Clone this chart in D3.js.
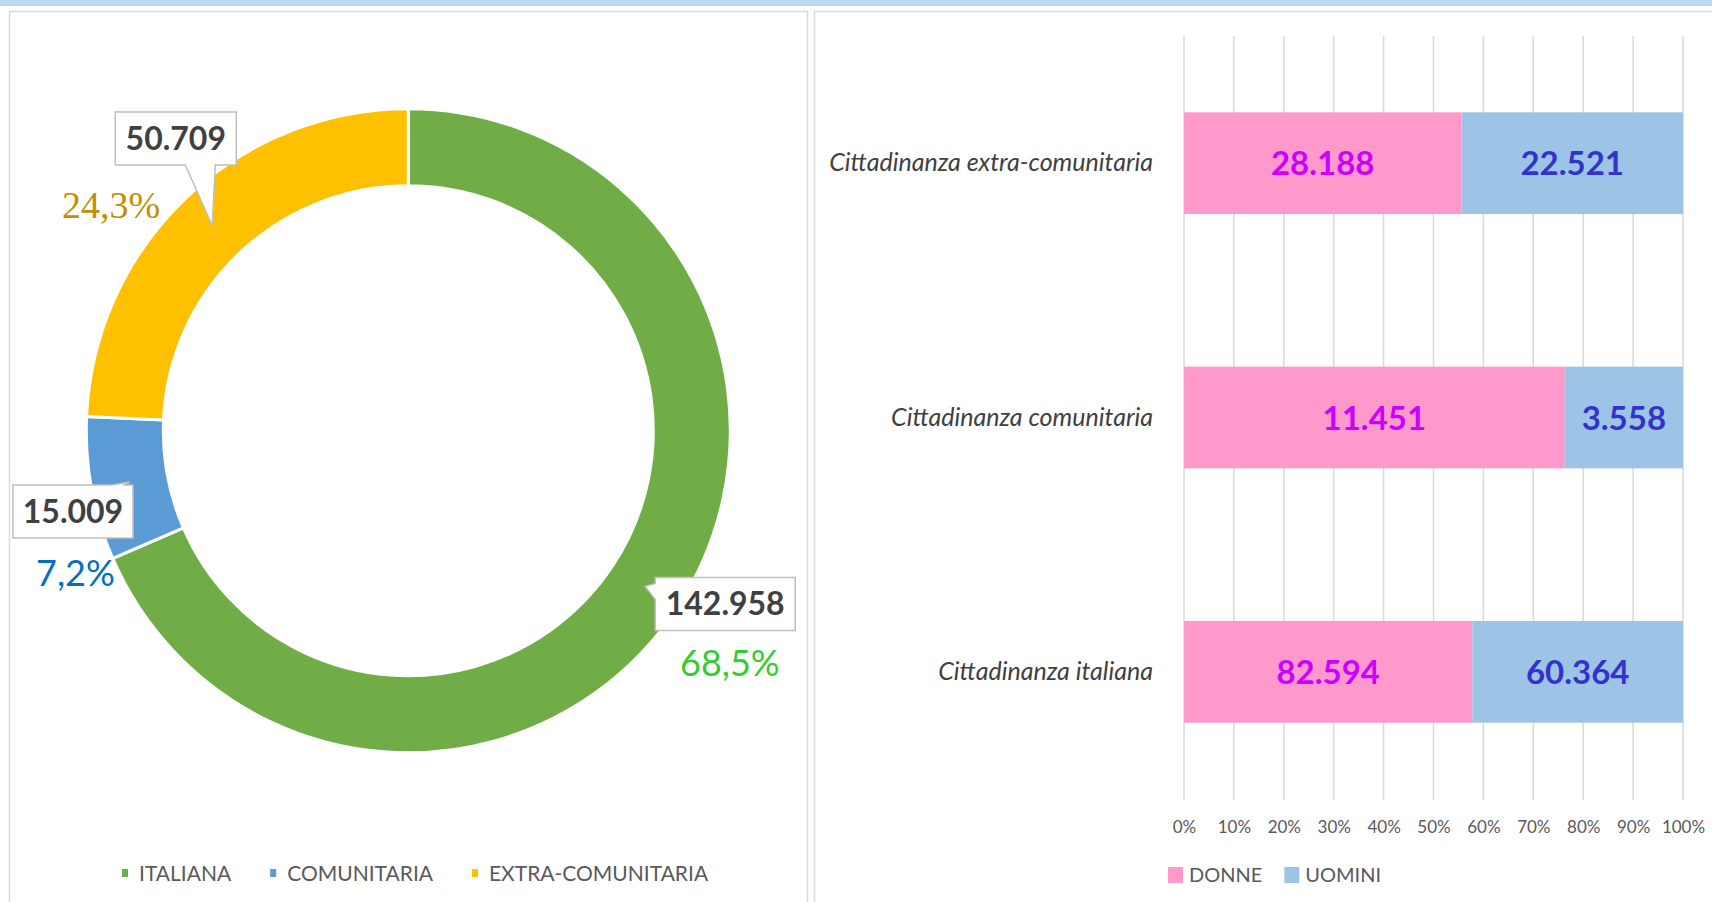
<!DOCTYPE html>
<html><head><meta charset="utf-8">
<script src="https://cdn.jsdelivr.net/npm/d3@7"></script>
<style>html,body{margin:0;padding:0;background:#fff;overflow:hidden}svg{display:block}</style>
</head><body>
<svg id="c" width="1712" height="902"></svg>
<script>
// ---- data ----
const donutCats = ["ITALIANA", "COMUNITARIA", "EXTRA-COMUNITARIA"];
const donutValues = [142958, 15009, 50709];
const donutValueLabels = ["142.958", "15.009", "50.709"];
const donutPctLabels = ["68,5%", "7,2%", "24,3%"];

const barCats = ["Cittadinanza extra-comunitaria", "Cittadinanza comunitaria", "Cittadinanza italiana"];
const donne = [28188, 11451, 82594];
const uomini = [22521, 3558, 60364];
const donneLabels = ["28.188", "11.451", "82.594"];
const uominiLabels = ["22.521", "3.558", "60.364"];
const seriesNames = ["DONNE", "UOMINI"];
const pctTicks = [0, 0.1, 0.2, 0.3, 0.4, 0.5, 0.6, 0.7, 0.8, 0.9, 1];

// ---- styles / layout ----
const donutColors = ["#70AD47", "#5B9BD5", "#FFC000"];
const pctColors = ["#33CC33", "#0070C0", "#BF9000"];
const barColors = ["#FF99CC", "#9DC3E6"];
const barLabelColors = ["#CC00FF", "#3333CC"];
const SANS = "Lato, 'Open Sans', sans-serif";

const svg = d3.select("#c");

// top band & panels
svg.append("rect").attr("x", 0).attr("y", 0).attr("width", 1712).attr("height", 6).attr("fill", "#BDD7EE");
svg.append("rect").attr("x", 9.5).attr("y", 11.5).attr("width", 798).attr("height", 900)
  .attr("fill", "#fff").attr("stroke", "#D9D9D9").attr("stroke-width", 1.5);
svg.append("rect").attr("x", 814.5).attr("y", 11.5).attr("width", 920).attr("height", 900)
  .attr("fill", "#fff").attr("stroke", "#D9D9D9").attr("stroke-width", 1.5);

// ---- donut ----
const cx = 408.3, cy = 430.7, rOut = 322, rIn = 245;
const g = svg.append("g").attr("transform", `translate(${cx},${cy})`);
const pie = d3.pie().sort(null).value(d => d);
const arcs = pie(donutValues);
const arc = d3.arc().innerRadius(rIn).outerRadius(rOut);
g.selectAll("path.slice").data(arcs).join("path").attr("class", "slice")
  .attr("d", arc).attr("fill", (d, i) => donutColors[i])
  .attr("stroke", "#fff").attr("stroke-width", 3);

// callouts: offsets of box relative to centroid (layout only)
const callout = [
  { bx: 10, by: -9, bw: 140, bh: 53, ptr: "left", px: 680, py: 676, fs: 36 },
  { bx: -116.5, by: 3, bw: 120, bh: 53, ptr: "top", px: 36, py: 586, fs: 36 },
  { bx: -97, by: -114, bw: 121, bh: 53, ptr: "bottom", px: 62, py: 218, fs: 38 }
];
arcs.forEach((a, i) => {
  const [ox, oy] = arc.centroid(a);
  const tx = cx + ox, ty = cy + oy;
  const c = callout[i];
  const x0 = tx + c.bx, y0 = ty + c.by, x1 = x0 + c.bw, y1 = y0 + c.bh;
  let pts;
  if (c.ptr === "left") {
    pts = [[x0, y0], [x1, y0], [x1, y1], [x0, y1], [x0, y0 + 22], [tx, ty], [x0, y0 + 6]];
  } else if (c.ptr === "top") {
    pts = [[x0, y0], [tx - 18, y0], [tx, ty], [tx - 5, y0], [x1, y0], [x1, y1], [x0, y1]];
  } else {
    pts = [[x0, y0], [x1, y0], [x1, y1], [tx + 3, y1], [tx, ty], [tx - 27, y1], [x0, y1]];
  }
  svg.append("path").attr("d", d3.line()(pts) + "Z")
    .attr("fill", "#fff").attr("stroke", "#BFBFBF").attr("stroke-width", 1.5);
  svg.append("text").attr("x", (x0 + x1) / 2).attr("y", y0 + 38)
    .attr("text-anchor", "middle").attr("font-family", SANS).attr("font-weight", "bold")
    .attr("font-size", 32).attr("fill", "#404040").text(donutValueLabels[i]);
  svg.append("text").attr("x", c.px).attr("y", c.py)
    .attr("font-family", i === 2 ? "'Liberation Serif', serif" : SANS)
    .attr("font-size", c.fs)
    .attr("fill", pctColors[i]).text(donutPctLabels[i]);
});

// donut legend
const lg = svg.append("g").attr("font-family", SANS).attr("font-size", 21).attr("fill", "#595959");
let lx = 122;
donutCats.forEach((c, i) => {
  lg.append("rect").attr("x", lx).attr("y", 869).attr("width", 6).attr("height", 8).attr("fill", donutColors[i]);
  const t = lg.append("text").attr("x", lx + 17).attr("y", 881).text(c);
  lx += 17 + t.node().getComputedTextLength() + 39;
});

// ---- stacked 100% bar ----
const x = d3.scaleLinear().domain([0, 1]).range([1184, 1683]);
const y = d3.scaleBand().domain(barCats).range([36, 799]).paddingInner(0.6).paddingOuter(0.3);

svg.append("g").selectAll("line").data(pctTicks).join("line")
  .attr("x1", d => x(d)).attr("x2", d => x(d)).attr("y1", 36).attr("y2", 800)
  .attr("stroke", "#D9D9D9").attr("stroke-width", 1.5);

const xAxis = d3.axisBottom(x).tickValues(pctTicks).tickFormat(d => Math.round(d * 100) + "%").tickSize(0);
const ax = svg.append("g").attr("transform", "translate(0,818)").call(xAxis);
ax.select(".domain").remove();
ax.selectAll("text").attr("font-family", SANS).attr("font-size", 17).attr("fill", "#595959").attr("dy", "0.71em");

const rows = barCats.map((c, i) => {
  const tot = donne[i] + uomini[i];
  return [
    { c, s: 0, a: 0, b: donne[i] / tot, lab: donneLabels[i] },
    { c, s: 1, a: donne[i] / tot, b: 1, lab: uominiLabels[i] }
  ];
}).flat();

svg.append("g").selectAll("rect").data(rows).join("rect")
  .attr("x", d => x(d.a)).attr("width", d => x(d.b) - x(d.a))
  .attr("y", d => y(d.c)).attr("height", y.bandwidth())
  .attr("fill", d => barColors[d.s]);

svg.append("g").selectAll("text").data(rows).join("text")
  .attr("x", d => (x(d.a) + x(d.b)) / 2).attr("y", d => y(d.c) + y.bandwidth() / 2 + 12)
  .attr("text-anchor", "middle").attr("font-family", SANS).attr("font-weight", "bold")
  .attr("font-size", 33).attr("fill", d => barLabelColors[d.s]).text(d => d.lab);

svg.append("g").selectAll("text").data(barCats).join("text")
  .attr("x", 1153).attr("y", d => y(d) + y.bandwidth() / 2 + 8)
  .attr("text-anchor", "end").attr("font-family", SANS).attr("font-style", "italic")
  .attr("font-size", 25).attr("fill", "#404040").text(d => d);

// bar legend
const bl = svg.append("g").attr("font-family", SANS).attr("font-size", 20).attr("fill", "#595959");
let bx = 1168;
seriesNames.forEach((s, i) => {
  bl.append("rect").attr("x", bx).attr("y", 867).attr("width", 15).attr("height", 16).attr("fill", barColors[i]);
  const t = bl.append("text").attr("x", bx + 21).attr("y", 882).text(s);
  bx += 21 + t.node().getComputedTextLength() + 22;
});
</script>
</body></html>
